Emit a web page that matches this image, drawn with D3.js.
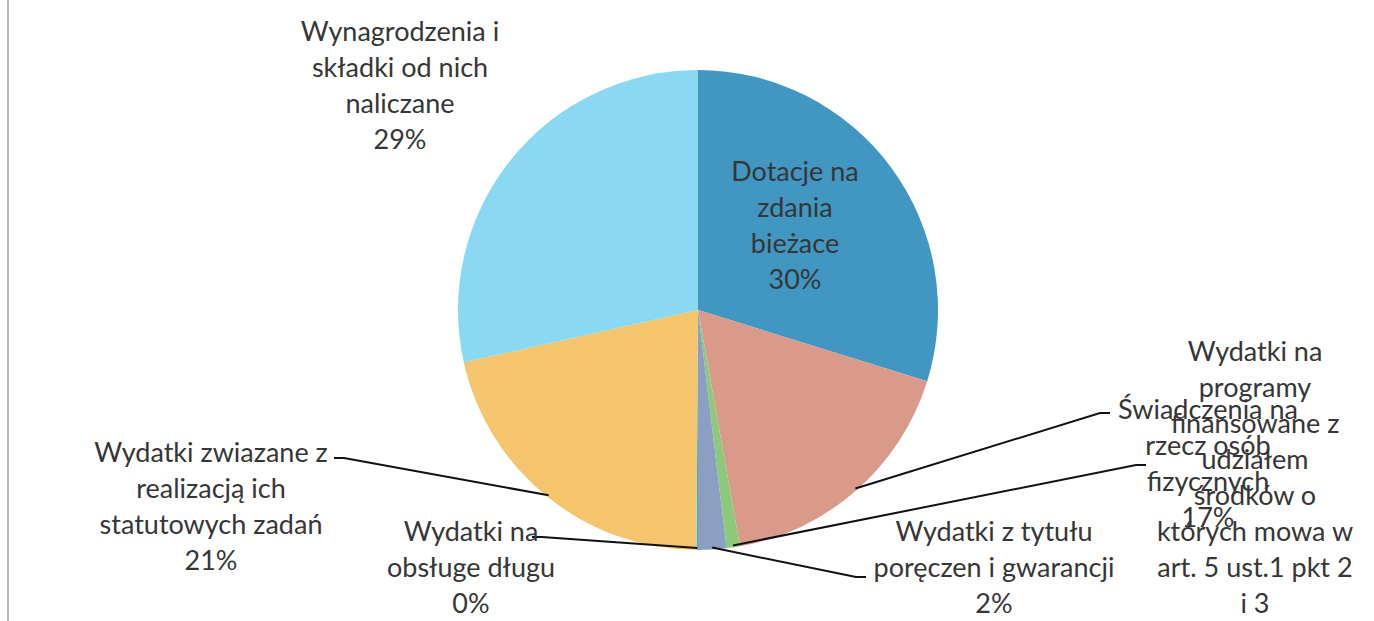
<!DOCTYPE html>
<html>
<head>
<meta charset="utf-8">
<script src="https://cdn.jsdelivr.net/npm/d3@7"></script>
<style>
  body { margin: 0; background: #fff; }
  svg text { font-family: Lato, "Open Sans", sans-serif; fill: #363636; }
</style>
</head>
<body>
<div id="chart"></div>
<script>
var w = 1374;
var h = 621;

// data (share of spending, in %)
var categories = [
  ["Dotacje na", "zdania", "bieżace"],
  ["Świadczenia na", "rzecz osób", "fizycznych"],
  ["Wydatki na", "programy", "finansowane z", "udziałem", "środków o", "których mowa w", "art. 5 ust.1 pkt 2", "i 3"],
  ["Wydatki z tytułu", "poręczen i gwarancji"],
  ["Wydatki na", "obsługe długu"],
  ["Wydatki zwiazane z", "realizacją ich", "statutowych zadań"],
  ["Wynagrodzenia i", "składki od nich", "naliczane"]
];
var values = [29.8, 17.4, 0.9, 1.9, 0.1, 21.4, 28.5];
var colors = ["#4196c2", "#d99a8a", "#8cc97a", "#8a9fc2", "#38b4c8", "#f5c56e", "#8ad8f2"];

// label layout: centre x, first line y, leader end (null = label inside the slice)
var labelPos = [
  { x: 795, y: 172, lead: null },
  { x: 1208, y: 410, lead: [1110, 413] },
  { x: 1255, y: 352, lead: [1146, 465] },
  { x: 994, y: 532, lead: [866, 577] },
  { x: 471, y: 532, lead: [532, 537] },
  { x: 211, y: 453, lead: [334, 458] },
  { x: 400, y: 32, lead: null }
];

var cx = 698, cy = 310, radius = 240;
var lineH = 36;

var svg = d3.select("#chart").append("svg")
  .attr("width", w)
  .attr("height", h);

// page border on the left of the scan
svg.append("line")
  .attr("x1", 8).attr("x2", 8)
  .attr("y1", 0).attr("y2", h)
  .style("stroke", "#b8b8b8")
  .style("stroke-width", 2);

var pie = d3.pie().sort(null).value(function (d) { return d; });
var arcs = pie(values);

var arc = d3.arc().innerRadius(0).outerRadius(radius);
var edgeArc = d3.arc().innerRadius(radius - 2).outerRadius(radius - 2);

var chart = svg.append("g").attr("transform", "translate(" + cx + "," + cy + ")");

chart.selectAll("path")
  .data(arcs)
  .join("path")
  .attr("d", arc)
  .style("fill", function (d, i) { return colors[i]; });

var fmt = function (v) { return Math.round(v) + "%"; };

// leader lines
arcs.forEach(function (d, i) {
  var p = labelPos[i];
  if (!p.lead) return;
  var c = edgeArc.centroid(d);
  var sx = c[0] + cx, sy = c[1] + cy;
  var hx = p.lead[0] + (p.lead[0] > sx ? -10 : 10);
  svg.append("polyline")
    .attr("points", [[sx, sy], [hx, p.lead[1]], p.lead].join(" "))
    .style("fill", "none")
    .style("stroke", "#111")
    .style("stroke-width", 2);
});

// labels
arcs.forEach(function (d, i) {
  var p = labelPos[i];
  var lines = categories[i].concat([fmt(values[i])]);
  var t = svg.append("text")
    .attr("text-anchor", "middle")
    .style("font-size", "27px");
  lines.forEach(function (l, k) {
    t.append("tspan")
      .attr("x", p.x)
      .attr("y", p.y + k * lineH)
      .attr("dy", "0.35em")
      .text(l);
  });
});
</script>
</body>
</html>
